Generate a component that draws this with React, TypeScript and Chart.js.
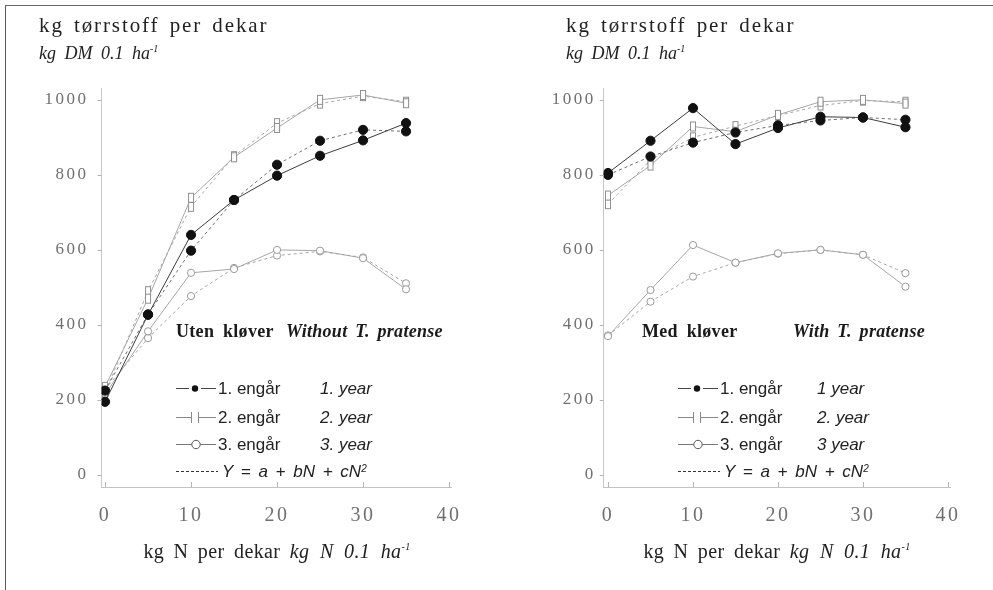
import React, { useEffect, useRef } from 'react';
import { Chart, registerables } from 'chart.js';

Chart.register(...registerables);

// N rates (kg N per dekar) and axis ticks
const nitrogenRates = [0, 5, 10, 15, 20, 25, 30, 35];
const xTickValues = [0, 10, 20, 30, 40];
const yTickValues = [0, 200, 400, 600, 800, 1000];

// Uten kløver (without T. pratense): observed yields and fitted curve values
const utenYear1 = [195, 427, 640, 733, 798, 851, 892, 938];
const utenYear1Fit = [225, 428, 598, 733, 827, 891, 920, 916];
const utenYear2 = [235, 470, 739, 847, 925, 1000, 1013, 991];
const utenYear2Fit = [220, 490, 715, 850, 938, 990, 1010, 995];
const utenYear3 = [215, 383, 539, 549, 600, 598, 578, 495];
const utenYear3Fit = [228, 365, 477, 552, 585, 596, 580, 511];

// Med kløver (with T. pratense)
const medYear1 = [805, 891, 978, 882, 925, 955, 953, 927];
const medYear1Fit = [800, 849, 886, 913, 932, 945, 953, 947];
const medYear2 = [745, 825, 929, 915, 960, 995, 1000, 990];
const medYear2Fit = [722, 840, 900, 930, 958, 985, 998, 995];
const medYear3 = [370, 493, 613, 566, 591, 600, 587, 502];
const medYear3Fit = [372, 462, 529, 566, 590, 600, 587, 538];

const SERIF = '"Liberation Serif", "Times New Roman", serif';
const SANS = '"Liberation Sans", Arial, sans-serif';

type PanelSeries = {
  y1: number[]; y1f: number[]; y2: number[]; y2f: number[]; y3: number[]; y3f: number[];
};

type PanelSpec = {
  canvasLeft: number;
  canvasWidth: number;
  axisLeft: number;
  plotRight: number;
  xMin: number;
  xMax: number;
  yLabelPad: number;
  series: PanelSeries;
};

const PLOT_TOP = 88.6;
const PLOT_BOTTOM = 487;
const CANVAS_H = 590;

function makeBarMarker(color: string): HTMLCanvasElement {
  const c = document.createElement('canvas');
  c.width = 10;
  c.height = 12;
  const g = c.getContext('2d')!;
  g.fillStyle = '#ffffff';
  g.fillRect(2, 1, 6, 10);
  g.strokeStyle = color;
  g.lineWidth = 1;
  g.strokeRect(2.5, 1.5, 5, 9);
  return c;
}

const axisDecor = {
  id: 'axisDecor',
  beforeDraw(chart: any) {
    chart.ctx.letterSpacing = '2.5px';
  },
  afterDraw(chart: any) {
    const { ctx, chartArea } = chart;
    const x = chart.scales.x;
    const y = chart.scales.y;
    ctx.save();
    ctx.strokeStyle = '#b4b4b4';
    ctx.lineWidth = 1;
    ctx.beginPath();
    xTickValues.forEach((v) => {
      const px = Math.round(x.getPixelForValue(v)) + 0.5;
      ctx.moveTo(px, chartArea.bottom);
      ctx.lineTo(px, chartArea.bottom - 5);
    });
    yTickValues.forEach((v) => {
      const py = Math.round(y.getPixelForValue(v)) + 0.5;
      ctx.moveTo(chartArea.left - 4, py);
      ctx.lineTo(chartArea.left, py);
    });
    ctx.stroke();
    ctx.restore();
  },
};

function buildChart(canvas: HTMLCanvasElement, spec: PanelSpec) {
  const pts = (vals: number[]) => nitrogenRates.map((n, i) => ({ x: n, y: vals[i] }));
  const bar = makeBarMarker('#8f8f8f');
  const s = spec.series;
  const gray = '#a6a6a6';
  const datasets: any[] = [
    {
      data: pts(s.y1), borderColor: '#3c3c3c', borderWidth: 1,
      pointStyle: 'circle', pointRadius: 4.6, pointBackgroundColor: '#111', pointBorderColor: '#111',
    },
    {
      data: pts(s.y1f), borderColor: '#707070', borderWidth: 1, borderDash: [3, 3],
      pointStyle: 'circle', pointRadius: 4.6, pointBackgroundColor: '#111', pointBorderColor: '#111',
    },
    {
      data: pts(s.y2), borderColor: gray, borderWidth: 1,
      pointStyle: bar, pointRadius: 5,
    },
    {
      data: pts(s.y2f), borderColor: gray, borderWidth: 1, borderDash: [3, 3],
      pointStyle: bar, pointRadius: 5,
    },
    {
      data: pts(s.y3), borderColor: gray, borderWidth: 1,
      pointStyle: 'circle', pointRadius: 3.6, pointBackgroundColor: '#fff', pointBorderColor: '#9a9a9a', pointBorderWidth: 1,
    },
    {
      data: pts(s.y3f), borderColor: gray, borderWidth: 1, borderDash: [3, 3],
      pointStyle: 'circle', pointRadius: 3.6, pointBackgroundColor: '#fff', pointBorderColor: '#9a9a9a', pointBorderWidth: 1,
    },
  ];

  return new Chart(canvas, {
    type: 'line',
    data: { datasets },
    options: {
      animation: false,
      responsive: false,
      maintainAspectRatio: false,
      layout: {
        padding: { top: PLOT_TOP, right: spec.canvasWidth - (spec.plotRight - spec.canvasLeft), bottom: 0, left: 0 },
      },
      plugins: { legend: { display: false }, tooltip: { enabled: false } },
      scales: {
        x: {
          type: 'linear',
          min: spec.xMin,
          max: spec.xMax,
          afterBuildTicks: (sc: any) => { sc.ticks = xTickValues.map((v) => ({ value: v })); },
          afterFit: (sc: any) => { sc.height = CANVAS_H - PLOT_BOTTOM; },
          grid: { display: false, drawTicks: false },
          border: { display: true, color: '#c2c2c2', dash: [10, 3] },
          ticks: {
            font: { family: SERIF, size: 20 }, color: '#707070', padding: 17,
            maxRotation: 0, autoSkip: false, callback: (v: any) => String(v),
          },
        },
        y: {
          type: 'linear',
          min: -32,
          max: 1030,
          afterBuildTicks: (sc: any) => { sc.ticks = yTickValues.map((v) => ({ value: v })); },
          afterFit: (sc: any) => { sc.width = spec.axisLeft - spec.canvasLeft; },
          grid: { display: false, drawTicks: false },
          border: { display: true, color: '#c8c8c8', dash: [8, 3] },
          ticks: {
            font: { family: SERIF, size: 17 }, color: '#707070', padding: spec.yLabelPad,
            autoSkip: false, callback: (v: any) => String(v),
          },
        },
      },
    },
    plugins: [axisDecor],
  } as any);
}

function ChartCanvas({ spec }: { spec: PanelSpec }) {
  const ref = useRef<HTMLCanvasElement | null>(null);
  useEffect(() => {
    if (!ref.current) return;
    const chart = buildChart(ref.current, spec);
    return () => chart.destroy();
  }, [spec]);
  return (
    <canvas
      ref={ref}
      width={spec.canvasWidth}
      height={CANVAS_H}
      style={{ position: 'absolute', left: spec.canvasLeft, top: 0, width: spec.canvasWidth, height: CANVAS_H }}
    />
  );
}

const leftSpec: PanelSpec = {
  canvasLeft: 0, canvasWidth: 492, axisLeft: 101.6, plotRight: 451.6, xMin: -0.4, xMax: 40.3, yLabelPad: 13,
  series: { y1: utenYear1, y1f: utenYear1Fit, y2: utenYear2, y2f: utenYear2Fit, y3: utenYear3, y3f: utenYear3Fit },
};

const rightSpec: PanelSpec = {
  canvasLeft: 500, canvasWidth: 493, axisLeft: 603.75, plotRight: 950.5, xMin: -0.5, xMax: 40.3, yLabelPad: 8,
  series: { y1: medYear1, y1f: medYear1Fit, y2: medYear2, y2f: medYear2Fit, y3: medYear3, y3f: medYear3Fit },
};

function Sample({ kind }: { kind: 'dot' | 'bar' | 'ring' | 'dash' }) {
  if (kind === 'dash') {
    return (
      <svg width={42} height={12} style={{ display: 'block' }}>
        <line x1={0} y1={6.5} x2={42} y2={6.5} stroke="#333" strokeWidth={1} strokeDasharray="3 2" />
      </svg>
    );
  }
  return (
    <svg width={40} height={14} style={{ display: 'block' }}>
      {kind === 'dot' && (
        <g>
          <line x1={0} y1={7.5} x2={13} y2={7.5} stroke="#444" strokeWidth={1} />
          <line x1={25} y1={7.5} x2={40} y2={7.5} stroke="#444" strokeWidth={1} />
          <circle cx={19} cy={7.5} r={3.2} fill="#111" />
        </g>
      )}
      {kind === 'bar' && (
        <g>
          <line x1={0} y1={7.5} x2={15.5} y2={7.5} stroke="#888" strokeWidth={1} />
          <line x1={22.5} y1={7.5} x2={40} y2={7.5} stroke="#888" strokeWidth={1} />
          <line x1={15.5} y1={2} x2={15.5} y2={13} stroke="#888" strokeWidth={1} />
          <line x1={22.5} y1={2} x2={22.5} y2={13} stroke="#888" strokeWidth={1} />
        </g>
      )}
      {kind === 'ring' && (
        <g>
          <line x1={0} y1={7.5} x2={40} y2={7.5} stroke="#777" strokeWidth={1} />
          <circle cx={20} cy={7.5} r={4.2} fill="#fff" stroke="#555" strokeWidth={1} />
        </g>
      )}
    </svg>
  );
}

type LegendProps = {
  left: number;
  headingLeft: number;
  headingNo: string;
  headingLatin: string;
  headingLatinLeft: number;
  yearLeft: number;
  years: string[];
};

const rowCenters = [388, 417, 444, 471];

function PanelLegend(p: LegendProps) {
  const kinds: ('dot' | 'bar' | 'ring')[] = ['dot', 'bar', 'ring'];
  const labelStyle: React.CSSProperties = {
    position: 'absolute', fontFamily: SANS, fontSize: 17, lineHeight: '17px', color: '#222',
    whiteSpace: 'nowrap',
  };
  const headStyle: React.CSSProperties = {
    position: 'absolute', top: 322, fontFamily: SERIF, fontWeight: 'bold', fontSize: 18, lineHeight: '18px',
    color: '#1a1a1a', whiteSpace: 'nowrap', wordSpacing: 4, letterSpacing: 0.3,
  };
  return (
    <>
      <div style={{ ...headStyle, left: p.headingLeft }}>{p.headingNo}</div>
      <div style={{ ...headStyle, left: p.headingLatinLeft, fontStyle: 'italic', wordSpacing: 3 }}>{p.headingLatin}</div>
      {kinds.map((k, i) => (
        <React.Fragment key={k}>
          <div style={{ position: 'absolute', left: p.left, top: rowCenters[i] - 7 }}>
            <Sample kind={k} />
          </div>
          <div style={{ ...labelStyle, left: p.left + 42, top: rowCenters[i] - 8.5 }}>{`${i + 1}. engår`}</div>
          <div style={{ ...labelStyle, left: p.yearLeft, top: rowCenters[i] - 8.5, fontStyle: 'italic' }}>{p.years[i]}</div>
        </React.Fragment>
      ))}
      <div style={{ position: 'absolute', left: p.left, top: rowCenters[3] - 6 }}>
        <Sample kind="dash" />
      </div>
      <div style={{ ...labelStyle, left: p.left + 46, top: rowCenters[3] - 8.5, fontStyle: 'italic', wordSpacing: 3 }}>
        Y = a + bN + cN<sup style={{ fontSize: 10, verticalAlign: 'top', position: 'relative', top: -3 }}>2</sup>
      </div>
    </>
  );
}

function AxisTitles({ left, xCenter }: { left: number; xCenter: number }) {
  return (
    <>
      <div style={{ position: 'absolute', left, top: 15, fontFamily: SERIF, fontSize: 21, lineHeight: '21px', color: '#222', whiteSpace: 'nowrap', letterSpacing: 1.9, wordSpacing: 3 }}>
        kg tørrstoff per dekar
      </div>
      <div style={{ position: 'absolute', left, top: 44, fontFamily: SERIF, fontStyle: 'italic', fontSize: 18, lineHeight: '18px', color: '#222', whiteSpace: 'nowrap', wordSpacing: 4 }}>
        kg DM 0.1 ha<sup style={{ fontSize: 10, verticalAlign: 'top', position: 'relative', top: -4 }}>-1</sup>
      </div>
      <div style={{ position: 'absolute', left: xCenter - 170, width: 340, top: 541, textAlign: 'center', fontFamily: SERIF, fontSize: 20, lineHeight: '20px', color: '#222', whiteSpace: 'nowrap', wordSpacing: 4, letterSpacing: 0.4 }}>
        kg N per dekar <span style={{ fontStyle: 'italic', wordSpacing: 5 }}>kg N 0.1 ha<sup style={{ fontSize: 10, verticalAlign: 'top', position: 'relative', top: -4 }}>-1</sup></span>
      </div>
    </>
  );
}

export default function App() {
  return (
    <div style={{ position: 'absolute', left: 0, top: 0, width: 993, height: 590, overflow: 'hidden', background: '#fff' }}>
      <div style={{ position: 'absolute', left: 5, top: 5, width: 1000, height: 600, borderLeft: '1.5px solid #5a5a5a', borderTop: '1.5px solid #6a6a6a' }} />
      <ChartCanvas spec={leftSpec} />
      <ChartCanvas spec={rightSpec} />
      <AxisTitles left={39} xCenter={277} />
      <AxisTitles left={566} xCenter={777} />
      <PanelLegend
        left={176} headingLeft={176} headingNo="Uten kløver" headingLatin="Without T. pratense" headingLatinLeft={286}
        yearLeft={320} years={['1. year', '2. year', '3. year']}
      />
      <PanelLegend
        left={678} headingLeft={642} headingNo="Med kløver" headingLatin="With T. pratense" headingLatinLeft={793}
        yearLeft={817} years={['1 year', '2. year', '3 year']}
      />
    </div>
  );
}
